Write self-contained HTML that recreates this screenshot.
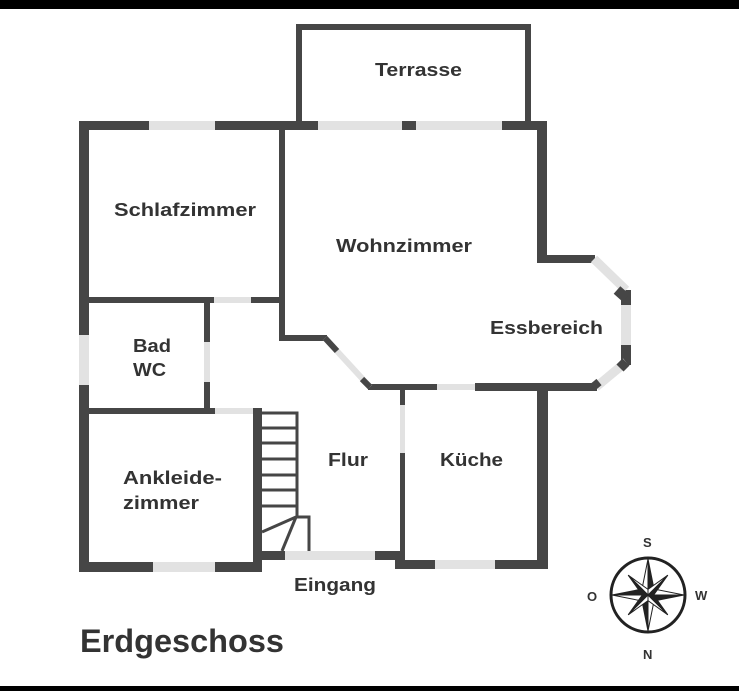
<!DOCTYPE html>
<html><head><meta charset="utf-8"><style>
html,body{margin:0;padding:0;background:#fff;}
svg{display:block;}
text{font-family:"Liberation Sans",sans-serif;font-weight:bold;fill:#333;}
</style></head><body>
<svg width="739" height="691" viewBox="0 0 739 691" xmlns="http://www.w3.org/2000/svg">
<rect x="0" y="0" width="739" height="9" fill="#000"/>
<rect x="0" y="686" width="739" height="5" fill="#000"/>
<g fill="#464646">
<!-- Terrasse -->
<rect x="296" y="24" width="235" height="6"/>
<rect x="296" y="24" width="6" height="100"/>
<rect x="525" y="24" width="6" height="100"/>
<!-- top wall -->
<rect x="79" y="121" width="70" height="9"/>
<rect x="215" y="121" width="103" height="9"/>
<rect x="402" y="121" width="14" height="9"/>
<rect x="502" y="121" width="45" height="9"/>
<!-- left wall -->
<rect x="79" y="121" width="10" height="214"/>
<rect x="79" y="385" width="10" height="187"/>
<!-- bottom wall -->
<rect x="79" y="562" width="74" height="10"/>
<rect x="215" y="562" width="47" height="10"/>
<rect x="253" y="408" width="9" height="164"/>
<rect x="258" y="551" width="27" height="9"/>
<rect x="375" y="551" width="30" height="9"/>
<rect x="395" y="560" width="40" height="9"/>
<rect x="495" y="560" width="53" height="9"/>
<!-- right walls -->
<rect x="537" y="121" width="10" height="142"/>
<rect x="537" y="255" width="58" height="8"/>
<rect x="621" y="290" width="10" height="15"/>
<rect x="621" y="345" width="10" height="20"/>
<rect x="475" y="383" width="122" height="8"/>
<rect x="537" y="383" width="11" height="186"/>
<!-- interior -->
<rect x="279" y="121" width="6" height="220"/>
<rect x="279" y="335" width="48" height="6"/>
<rect x="79" y="297" width="135" height="6"/>
<rect x="251" y="297" width="34" height="6"/>
<rect x="204" y="297" width="6" height="45"/>
<rect x="204" y="382" width="6" height="32"/>
<rect x="79" y="408" width="136" height="6"/>
<rect x="368" y="384" width="69" height="6"/>
<rect x="400" y="384" width="5" height="21"/>
<rect x="400" y="453" width="5" height="107"/>
</g>
<g fill="#e2e2e2">
<rect x="149" y="121" width="66" height="9"/>
<rect x="318" y="121" width="84" height="9"/>
<rect x="416" y="121" width="86" height="9"/>
<rect x="79" y="335" width="10" height="50"/>
<rect x="153" y="562" width="62" height="10"/>
<rect x="285" y="551" width="90" height="9"/>
<rect x="435" y="560" width="60" height="9"/>
<rect x="621" y="305" width="10" height="40"/>
<rect x="437" y="384" width="38" height="6"/>
<rect x="214" y="297" width="37" height="6"/>
<rect x="204" y="342" width="6" height="40"/>
<rect x="215" y="408" width="38" height="6"/>
<rect x="400" y="405" width="5" height="48"/>
</g>
<!-- diagonals -->
<line x1="594" y1="259" x2="626" y2="290" stroke="#e2e2e2" stroke-width="9"/>
<line x1="617" y1="290" x2="626" y2="298" stroke="#464646" stroke-width="10"/>
<line x1="626" y1="362" x2="596" y2="387" stroke="#e2e2e2" stroke-width="9"/>
<line x1="626" y1="362" x2="620" y2="368" stroke="#464646" stroke-width="10"/>
<line x1="593" y1="387" x2="599" y2="382" stroke="#464646" stroke-width="8"/>
<line x1="325" y1="338" x2="370" y2="387" stroke="#e2e2e2" stroke-width="6"/>
<line x1="325" y1="338" x2="337" y2="351" stroke="#464646" stroke-width="6"/>
<line x1="362" y1="379" x2="370" y2="387" stroke="#464646" stroke-width="6"/>
<!-- stairs -->
<g stroke="#464646" stroke-width="3" fill="none">
<polyline points="262,413 297,413 297,518"/>
<line x1="262" y1="428" x2="297" y2="428"/>
<line x1="262" y1="443" x2="297" y2="443"/>
<line x1="262" y1="459" x2="297" y2="459"/>
<line x1="262" y1="475" x2="297" y2="475"/>
<line x1="262" y1="490" x2="297" y2="490"/>
<line x1="262" y1="506" x2="297" y2="506"/>
<line x1="262" y1="532" x2="296" y2="517"/>
<line x1="282" y1="551" x2="296" y2="517"/>
<polyline points="296,517 309,517 309,551"/>
</g>
<!-- labels -->
<g font-size="18">
<text x="375" y="76" textLength="87" lengthAdjust="spacingAndGlyphs">Terrasse</text>
<text x="114" y="216" textLength="142" lengthAdjust="spacingAndGlyphs">Schlafzimmer</text>
<text x="336" y="252" textLength="136" lengthAdjust="spacingAndGlyphs">Wohnzimmer</text>
<text x="490" y="334" textLength="113" lengthAdjust="spacingAndGlyphs">Essbereich</text>
<text x="133" y="352" textLength="38" lengthAdjust="spacingAndGlyphs">Bad</text>
<text x="133" y="376" textLength="33" lengthAdjust="spacingAndGlyphs">WC</text>
<text x="123" y="484" textLength="99" lengthAdjust="spacingAndGlyphs">Ankleide-</text>
<text x="123" y="509" textLength="76" lengthAdjust="spacingAndGlyphs">zimmer</text>
<text x="328" y="466" textLength="40" lengthAdjust="spacingAndGlyphs">Flur</text>
<text x="440" y="466" textLength="63" lengthAdjust="spacingAndGlyphs">Küche</text>
<text x="294" y="591" textLength="82" lengthAdjust="spacingAndGlyphs">Eingang</text>
</g>
<text x="80" y="652" font-size="32" textLength="204" lengthAdjust="spacingAndGlyphs">Erdgeschoss</text>
<!-- compass -->
<g transform="translate(648,595)">
<circle r="37" fill="none" stroke="#222" stroke-width="3"/>
<g fill="#222" stroke="#222" stroke-width="1">
<polygon points="0,-36 6,-6 0,0"/><polygon points="0,-36 -6,-6 0,0" fill="#fff"/>
<polygon points="0,36 -6,6 0,0"/><polygon points="0,36 6,6 0,0" fill="#fff"/>
<polygon points="-36,0 -6,-6 0,0"/><polygon points="-36,0 -6,6 0,0" fill="#fff"/>
<polygon points="36,0 6,6 0,0"/><polygon points="36,0 6,-6 0,0" fill="#fff"/>
<g transform="rotate(45)">
<polygon points="0,-28 4,-4 0,0"/><polygon points="0,-28 -4,-4 0,0" fill="#fff"/>
<polygon points="0,28 -4,4 0,0"/><polygon points="0,28 4,4 0,0" fill="#fff"/>
<polygon points="-28,0 -4,-4 0,0" fill="#fff"/><polygon points="-28,0 -4,4 0,0"/>
<polygon points="28,0 4,4 0,0" fill="#fff"/><polygon points="28,0 4,-4 0,0"/>
</g>
</g>
</g>
<g font-size="13" fill="#222">
<text x="643" y="547">S</text>
<text x="643" y="659">N</text>
<text x="587" y="601">O</text>
<text x="695" y="600">W</text>
</g>
</svg>
</body></html>
